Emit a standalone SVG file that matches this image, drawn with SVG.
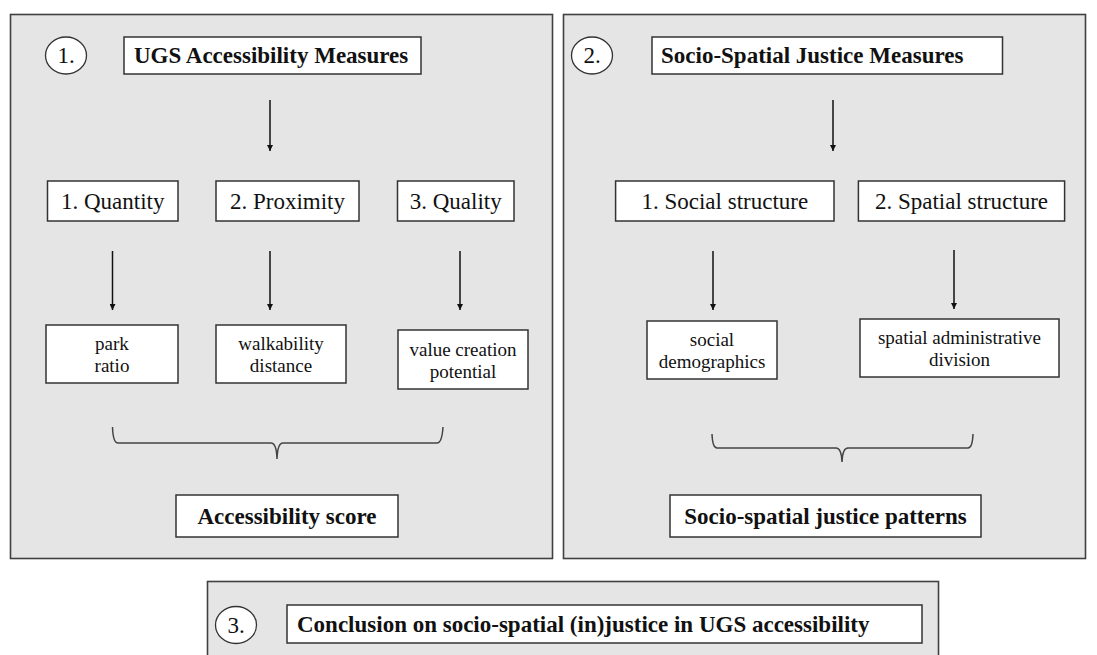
<svg xmlns="http://www.w3.org/2000/svg" width="1097" height="655" viewBox="0 0 1097 655">
<defs>
<style>
.panel{fill:#e5e5e5;stroke:#404040;stroke-width:1.6}
.box{fill:#fff;stroke:#333;stroke-width:1.5}
.circ{fill:#fff;stroke:#333;stroke-width:1.3}
.b{font-family:"Liberation Serif",serif;font-weight:bold;font-size:23px;fill:#111}
.r{font-family:"Liberation Serif",serif;font-size:23px;fill:#111}
.s{font-family:"Liberation Serif",serif;font-size:19px;fill:#111}
.c{text-anchor:middle}
.arr{stroke:#111;stroke-width:1.5;fill:none;marker-end:url(#ah)}
.brace{stroke:#444;stroke-width:1.5;fill:none}
</style>
<marker id="ah" viewBox="0 0 10 10" refX="10" refY="5" markerWidth="6" markerHeight="6" markerUnits="userSpaceOnUse" orient="auto">
<path d="M0,0 L10,5 L0,10 z" fill="#111"/>
</marker>
</defs>
<rect width="1097" height="655" fill="#fff"/>

<g id="panel1">
<rect class="panel" x="10.5" y="14.5" width="542" height="544"/>
</g>
<g id="panel2">
<rect class="panel" x="563.5" y="14.5" width="522" height="544"/>
</g>
<g id="panel3">
<rect class="panel" x="207.5" y="581.5" width="731" height="80"/>
</g>

<g id="circle1"><ellipse class="circ" cx="66" cy="55.5" rx="20.5" ry="18.5"/><text class="r c" x="66" y="63">1.</text></g>
<g id="circle2"><ellipse class="circ" cx="592" cy="55.5" rx="20.5" ry="18.5"/><text class="r c" x="592" y="63">2.</text></g>
<g id="circle3"><ellipse class="circ" cx="236" cy="625" rx="20.5" ry="18.5"/><text class="r c" x="236" y="632.5">3.</text></g>

<g id="ugs-title"><rect class="box" x="124" y="37" width="297" height="37"/><text class="b" x="134" y="63">UGS Accessibility Measures</text></g>
<g id="quantity"><rect class="box" x="47.5" y="181" width="130.5" height="40"/><text class="r c" x="112.7" y="209">1. Quantity</text></g>
<g id="proximity"><rect class="box" x="216" y="181" width="143" height="40"/><text class="r c" x="287.5" y="209">2. Proximity</text></g>
<g id="quality"><rect class="box" x="397.5" y="181" width="116.5" height="40"/><text class="r c" x="455.7" y="209">3. Quality</text></g>
<g id="park"><rect class="box" x="46" y="325" width="132" height="58"/><text class="s c" x="112" y="350">park</text><text class="s c" x="112" y="372">ratio</text></g>
<g id="walk"><rect class="box" x="216" y="325" width="130" height="58"/><text class="s c" x="281" y="350">walkability</text><text class="s c" x="281" y="372">distance</text></g>
<g id="value"><rect class="box" x="398" y="330" width="130" height="59"/><text class="s c" x="463" y="355.5">value creation</text><text class="s c" x="463" y="377.5">potential</text></g>
<g id="acc-score"><rect class="box" x="176" y="495" width="222" height="42"/><text class="b c" x="287" y="523.5">Accessibility score</text></g>

<g id="ssj-title"><rect class="box" x="652" y="37" width="350.5" height="37"/><text class="b" x="661" y="63">Socio-Spatial Justice Measures</text></g>
<g id="social"><rect class="box" x="615.6" y="181" width="218.4" height="40"/><text class="r c" x="724.8" y="209">1. Social structure</text></g>
<g id="spatial"><rect class="box" x="858.4" y="181" width="206.2" height="40"/><text class="r c" x="961.5" y="209">2. Spatial structure</text></g>
<g id="socdem"><rect class="box" x="647" y="321" width="130" height="58"/><text class="s c" x="712" y="346">social</text><text class="s c" x="712" y="368">demographics</text></g>
<g id="spadm"><rect class="box" x="860" y="319" width="199" height="58"/><text class="s c" x="959.5" y="344">spatial administrative</text><text class="s c" x="959.5" y="366">division</text></g>
<g id="ssj-patterns"><rect class="box" x="670" y="495" width="311" height="42"/><text class="b c" x="825.5" y="523.5">Socio-spatial justice patterns</text></g>

<g id="conclusion"><rect class="box" x="287" y="605" width="635" height="38"/><text class="b" x="297" y="632">Conclusion on socio-spatial (in)justice in UGS accessibility</text></g>

<g id="connectors">
<line class="arr" x1="270" y1="100" x2="270" y2="151"/>
<line class="arr" x1="112.5" y1="251" x2="112.5" y2="310"/>
<line class="arr" x1="270" y1="251" x2="270" y2="310"/>
<line class="arr" x1="460" y1="251" x2="460" y2="310"/>
<line class="arr" x1="833" y1="100" x2="833" y2="151"/>
<line class="arr" x1="713" y1="251" x2="713" y2="310"/>
<line class="arr" x1="954" y1="250" x2="954" y2="309"/>
<path class="brace" d="M112.5,427 Q113,443 118,443 H271 Q276.5,443 277,459 Q277.5,443 283,443 H437 Q442,443 443,427"/>
<path class="brace" d="M712,434 Q712.5,448 717,448 H836 Q841.5,448 842,462 Q842.5,448 848,448 H968 Q972.5,448 973,434"/>
</g>
</svg>
